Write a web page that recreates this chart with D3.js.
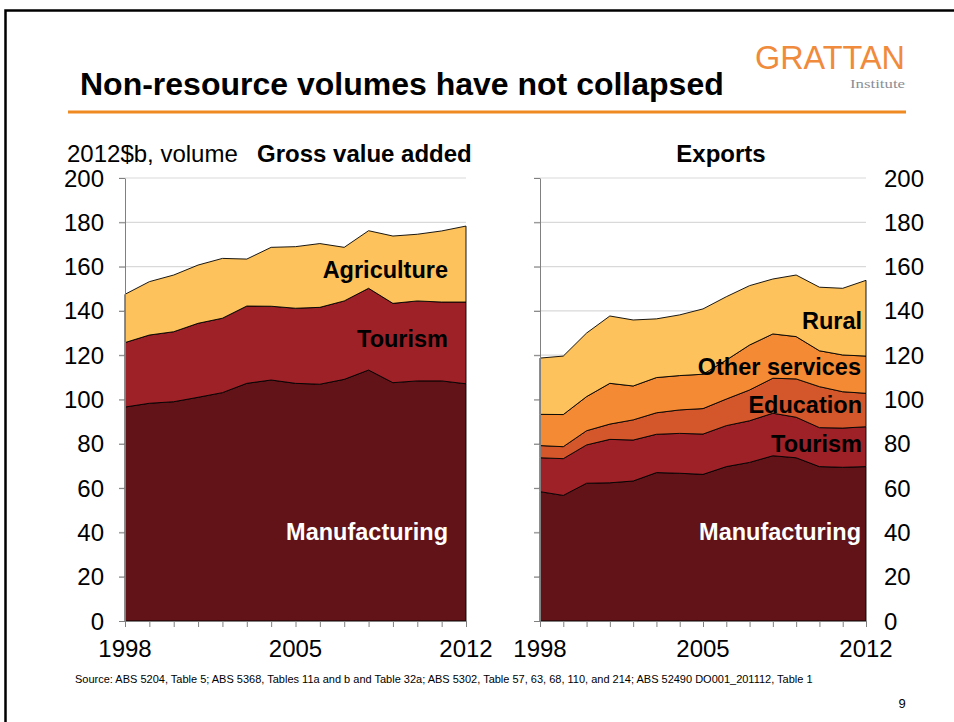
<!DOCTYPE html>
<html><head><meta charset="utf-8">
<script src="https://cdn.jsdelivr.net/npm/d3@7/dist/d3.min.js"></script>
<style>body{margin:0;background:#fff}svg{display:block;font-family:Arial,"Liberation Sans",sans-serif}</style>
</head><body>
<svg id="c" width="954" height="722"></svg>
<script>
const years = [1998,1999,2000,2001,2002,2003,2004,2005,2006,2007,2008,2009,2010,2011,2012];
const yTicks = [0,20,40,60,80,100,120,140,160,180,200];
const xTickLabels = [1998,2005,2012];

// Gross value added (2012$b, volume)
const gvaManufacturing = [96.6,98.3,99.0,101.0,103.1,107.3,108.8,107.3,106.9,109.1,113.3,107.6,108.4,108.4,107.1];
const gvaTourism       = [29.1,30.8,31.6,33.4,33.6,34.9,33.3,33.9,34.7,35.4,36.9,35.8,36.1,35.6,36.9];
const gvaAgriculture   = [21.8,24.1,25.6,26.3,27.0,21.2,26.6,27.8,28.8,24.2,26.0,30.4,30.1,32.1,34.3];

// Exports (2012$b, volume)
const expManufacturing = [58.4,56.7,62.2,62.4,63.2,67.0,66.7,66.2,69.7,71.6,74.6,73.7,69.7,69.4,69.7];
const expTourism       = [15.3,16.6,17.3,19.6,18.5,17.3,18.0,18.2,18.5,18.8,19.2,18.3,17.6,17.7,18.0];
const expEducation     = [5.5,5.4,6.4,6.9,9.1,9.7,10.6,11.5,12.0,13.9,15.8,17.3,18.5,16.4,15.1];
const expOther         = [14.1,14.5,15.4,18.4,15.3,15.9,15.5,15.5,17.6,20.3,20.0,19.1,16.2,16.6,16.8];
const expRural         = [25.4,26.4,28.7,30.4,29.8,26.5,27.4,29.5,28.6,26.8,24.8,27.8,28.7,30.1,34.2];

const colors = {
  Manufacturing:"#611318", Tourism:"#9f2128", Education:"#d4572b",
  "Other services":"#f48a33", Agriculture:"#fdc25b", Rural:"#fdc25b"
};

const svg = d3.select("#c");

// slide frame
svg.append("rect").attr("x",5.5).attr("y",10.5).attr("width",980).attr("height",760)
  .attr("fill","none").attr("stroke","#000").attr("stroke-width",2.5);

// title
svg.append("text").attr("x",80).attr("y",95).attr("font-size",32).attr("font-weight","bold")
  .attr("fill","#000").text("Non-resource volumes have not collapsed");
svg.append("rect").attr("x",68).attr("y",110.5).attr("width",838).attr("height",3).attr("fill","#ef8a22");

// logo
svg.append("text").attr("x",755).attr("y",68.5).attr("font-size",34)
  .attr("fill","#f08a3c")
  .attr("textLength",150).attr("lengthAdjust","spacingAndGlyphs").text("GRATTAN");
svg.append("text").attr("x",850).attr("y",87.5).attr("font-size",13)
  .attr("fill","#8a8f96").attr("font-family","'Liberation Serif','DejaVu Serif',serif")
  .attr("textLength",55).attr("lengthAdjust","spacingAndGlyphs").text("Institute");

function panel(opts){
  const x = d3.scaleLinear().domain([1998,2012]).range([opts.x0,opts.x1]);
  const y = d3.scaleLinear().domain([0,200]).range([621,178]);
  const g = svg.append("g");
  g.selectAll("line.grid").data(yTicks.filter(d=>d>0)).join("line")
    .attr("x1",opts.x0-6).attr("x2",opts.x1).attr("y1",d=>y(d)).attr("y2",d=>y(d))
    .attr("stroke","#d9d9d9").attr("stroke-width",1.2);
  const rows = years.map((yr,i)=>{const r={year:yr}; opts.series.forEach(s=>{r[s.name]=s.values[i];}); return r;});
  const stack = d3.stack().keys(opts.series.map(s=>s.name))(rows);
  const area = d3.area().x(d=>x(d.data.year)).y0(d=>y(d[0])).y1(d=>y(d[1]));
  g.selectAll("path.a").data(stack).join("path")
    .attr("d",area).attr("fill",d=>colors[d.key]).attr("stroke","#000").attr("stroke-width",0.9)
    .attr("stroke-linejoin","round");
  const ax = g.append("g").attr("transform","translate(" + opts.x0 + ",0)")
    .call(d3.axisLeft(y).tickValues(yTicks).tickSize(6).tickSizeOuter(0).tickFormat(""));
  ax.select(".domain").attr("stroke","#808080");
  ax.selectAll(".tick line").attr("stroke","#808080");
  const bx = g.append("g").attr("transform","translate(0,621)")
    .call(d3.axisBottom(x).tickValues(years).tickSize(6).tickSizeOuter(0).tickFormat(""));
  bx.select(".domain").attr("stroke","#808080");
  bx.selectAll(".tick line").attr("stroke","#808080");
  g.selectAll("text.xl").data(xTickLabels).join("text")
    .attr("x",d=>x(d)).attr("y",657).attr("text-anchor","middle").attr("font-size",24).attr("fill","#000").text(d=>d);
  g.selectAll("text.yl").data(yTicks).join("text")
    .attr("x",opts.labelX).attr("y",d=>y(d)+8.5).attr("text-anchor",opts.labelAnchor)
    .attr("font-size",24).attr("fill","#000").text(d=>d);
  opts.labels.forEach(l=>{
    g.append("text").attr("x",l.x).attr("y",l.y).attr("text-anchor","end").attr("font-size",23.5)
      .attr("font-weight","bold").attr("fill",l.color||"#000").text(l.text);
  });
}

panel({x0:125,x1:466,labelX:104,labelAnchor:"end",
  series:[{name:"Manufacturing",values:gvaManufacturing},{name:"Tourism",values:gvaTourism},{name:"Agriculture",values:gvaAgriculture}],
  labels:[{text:"Agriculture",x:448,y:278},{text:"Tourism",x:448,y:347},{text:"Manufacturing",x:448,y:540,color:"#fff"}]
});
panel({x0:540,x1:866,labelX:884,labelAnchor:"start",
  series:[{name:"Manufacturing",values:expManufacturing},{name:"Tourism",values:expTourism},{name:"Education",values:expEducation},{name:"Other services",values:expOther},{name:"Rural",values:expRural}],
  labels:[{text:"Rural",x:862,y:329},{text:"Other services",x:861,y:375},{text:"Education",x:862,y:413},{text:"Tourism",x:862,y:452},{text:"Manufacturing",x:861,y:540,color:"#fff"}]
});

svg.append("text").attr("x",67).attr("y",162).attr("font-size",24).attr("fill","#000").text("2012$b, volume");
svg.append("text").attr("x",257).attr("y",162).attr("font-size",24).attr("font-weight","bold").attr("fill","#000").text("Gross value added");
svg.append("text").attr("x",721).attr("y",162).attr("text-anchor","middle").attr("font-size",24).attr("font-weight","bold").attr("fill","#000").text("Exports");

svg.append("text").attr("x",75).attr("y",683).attr("font-size",11).attr("fill","#000")
  .text("Source:  ABS 5204, Table 5; ABS 5368, Tables 11a and b and Table 32a; ABS 5302, Table 57, 63, 68, 110, and 214; ABS 52490 DO001_201112, Table 1");
svg.append("text").attr("x",902).attr("y",708).attr("text-anchor","middle").attr("font-size",13).attr("fill","#000").text("9");
</script>
</body></html>
